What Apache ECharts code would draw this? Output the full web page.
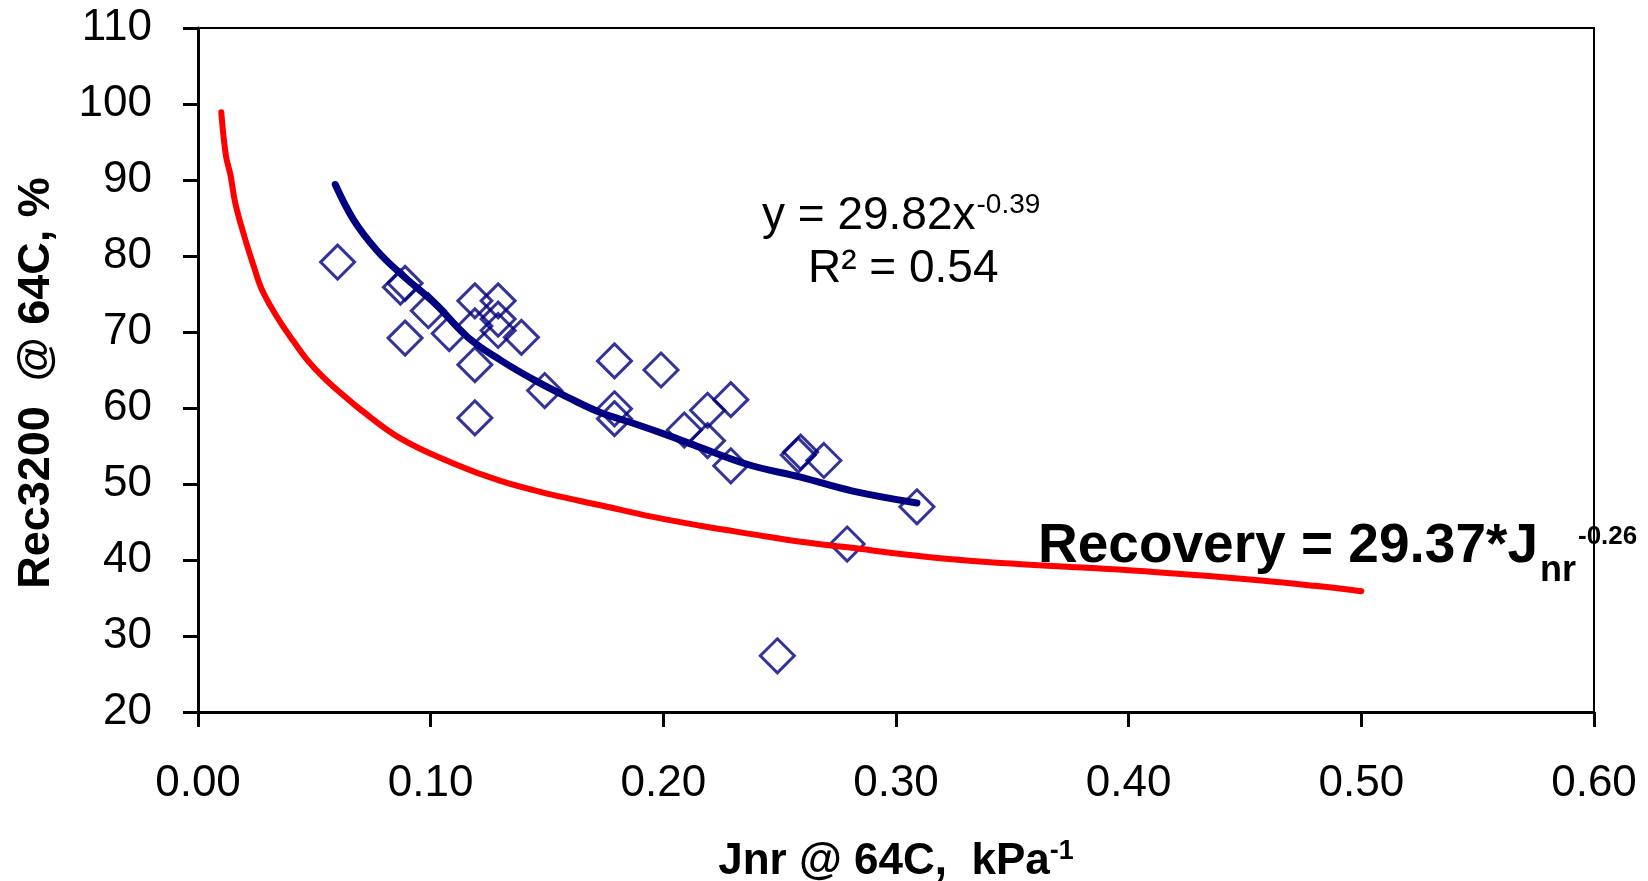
<!DOCTYPE html>
<html>
<head>
<meta charset="utf-8">
<script src="https://cdn.jsdelivr.net/npm/echarts@6/dist/echarts.min.js"></script>
<style>
  html, body { margin: 0; padding: 0; background: #fff; }
  #main { width: 1648px; height: 881px; }
</style>
</head>
<body>
<div id="main"></div>
<script>
// measured binders: Jnr (kPa^-1) vs recovery (%)
const jnrMeasured = [0.060, 0.089, 0.087, 0.099, 0.089, 0.108, 0.119, 0.129, 0.119, 0.129,
  0.129, 0.139, 0.119, 0.119, 0.149, 0.179, 0.199, 0.179, 0.179, 0.209,
  0.219, 0.229, 0.219, 0.229, 0.259, 0.258, 0.269, 0.309, 0.279, 0.249];
const recMeasured = [79.2, 76.4, 75.9, 72.8, 69.2, 69.8, 74.1, 74.1, 70.8, 71.7,
  70.2, 69.3, 65.7, 58.7, 62.3, 66.2, 65.0, 59.9, 58.6, 57.1,
  59.7, 61.1, 55.7, 52.4, 54.2, 53.8, 53.1, 47.0, 42.1, 27.4];

// power trend line through the measured points
const fitJnr = [0.059, 0.067, 0.077, 0.087, 0.102, 0.116, 0.130, 0.145, 0.159, 0.173,
  0.188, 0.202, 0.216, 0.237, 0.259, 0.281, 0.309];
const fitRec = [89.4, 84.7, 80.7, 77.7, 73.7, 69.3, 66.3, 63.6, 61.4, 59.4,
  57.9, 56.4, 54.8, 52.5, 50.9, 49.1, 47.5];

// red specification curve: Recovery = 29.37*Jnr^-0.26
const specJnr = [0.010, 0.012, 0.014, 0.016, 0.020, 0.024, 0.027, 0.031, 0.036, 0.041,
  0.047, 0.054, 0.062, 0.069, 0.087, 0.109, 0.130, 0.152, 0.173, 0.195,
  0.216, 0.238, 0.259, 0.281, 0.302, 0.324, 0.345, 0.380, 0.412, 0.457, 0.480, 0.500];
const specRec = [98.9, 93.2, 90.6, 87.0, 82.5, 78.6, 75.9, 73.5, 71.0, 68.8,
  66.3, 64.0, 61.8, 60.0, 56.0, 52.8, 50.4, 48.6, 47.2, 45.7,
  44.5, 43.4, 42.4, 41.6, 40.8, 40.1, 39.6, 39.0, 38.4, 37.3, 36.6, 35.9];

const FONT = '"Liberation Sans", Arial, sans-serif';

let pairs = (xs, ys) => xs.map((x, i) => [x, ys[i]]);

let ctx = document.createElement("canvas").getContext("2d");
let textWidth = (txt, font) => {
  ctx.font = font;
  return ctx.measureText(txt).width;
};

// equation labels, baseline positions in px
let blueX = 762, blueBase = 229;
let blueMainW = textWidth("y = 29.82x", "46px " + FONT);
let redX = 1038, redBase = 562;
let redMainW = textWidth("Recovery = 29.37*J", "bold 55px " + FONT);
let redSubW = textWidth("nr", "bold 36px " + FONT);

let baseText = (txt, x, base, size, weight, color, align) => ({
  type: "text",
  z: 100,
  style: {
    text: txt,
    x: x,
    y: base - size * 0.27,
    fill: color,
    fontSize: size,
    fontWeight: weight,
    fontFamily: FONT,
    align: align || "left",
    verticalAlign: "middle",
  },
});

let option = {
  backgroundColor: "#fff",
  animation: false,
  grid: {
    left: 198,
    right: 54,
    top: 28,
    bottom: 169,
    outerBoundsMode: "none",
    show: true,
    borderColor: "#000",
    borderWidth: 2,
  },
  xAxis: {
    type: "value",
    min: 0,
    max: 0.6,
    interval: 0.1,
    name: "{a|Jnr @ 64C,  kPa}{s|-1}",
    nameLocation: "middle",
    nameGap: 126,
    nameTextStyle: {
      rich: {
        a: { fontSize: 44, fontWeight: "bold", fontFamily: FONT, color: "#000", lineHeight: 46, verticalAlign: "bottom" },
        s: { fontSize: 27, fontWeight: "bold", fontFamily: FONT, color: "#000", lineHeight: 46, verticalAlign: "top" },
      },
    },
    axisLine: { onZero: false, lineStyle: { color: "#000", width: 3 } },
    axisTick: { length: 15, lineStyle: { color: "#000", width: 3 } },
    splitLine: { show: false },
    axisLabel: {
      margin: 50,
      fontSize: 44,
      fontFamily: FONT,
      color: "#000",
      formatter: (v) => v.toFixed(2),
    },
  },
  yAxis: {
    type: "value",
    min: 20,
    max: 110,
    interval: 10,
    name: "Rec3200  @ 64C, %",
    nameLocation: "middle",
    nameRotate: 90,
    nameGap: 139,
    nameTextStyle: {
      fontSize: 45,
      fontWeight: "bold",
      fontFamily: FONT,
      color: "#000",
      padding: [0, 26, 0, 0],
    },
    axisLine: { onZero: false, lineStyle: { color: "#000", width: 3 } },
    axisTick: { length: 15, lineStyle: { color: "#000", width: 3 } },
    splitLine: { show: false },
    axisLabel: { margin: 46, fontSize: 44, fontFamily: FONT, color: "#000" },
  },
  series: [
    {
      name: "Measured",
      type: "scatter",
      z: 2,
      symbol: "diamond",
      symbolSize: 34,
      itemStyle: { color: "rgba(0,0,0,0)", borderColor: "#000080", borderWidth: 3 },
      data: pairs(jnrMeasured, recMeasured),
    },
    {
      name: "Power fit",
      type: "line",
      z: 3,
      smooth: 0.4,
      showSymbol: false,
      lineStyle: { color: "#000080", width: 7, cap: "round" },
      data: pairs(fitJnr, fitRec),
    },
    {
      name: "Specification",
      type: "line",
      z: 3,
      smooth: 0.4,
      showSymbol: false,
      lineStyle: { color: "#ff0000", width: 6, cap: "round" },
      data: pairs(specJnr, specRec),
    },
  ],
  graphic: [
    baseText("y = 29.82x", blueX, blueBase, 46, "normal", "#000"),
    baseText("-0.39", blueX + blueMainW + 1, 213, 28, "normal", "#000"),
    baseText("R² = 0.54", 808, 282, 46, "normal", "#000"),
    baseText("Recovery = 29.37*J", redX, redBase, 55, "bold", "#000"),
    baseText("nr", redX + redMainW + 2, 581, 36, "bold", "#000"),
    baseText("-0.26", redX + redMainW + redSubW + 4, 544, 26, "bold", "#000"),
  ],
};

let myChart = echarts.init(document.getElementById("main"));
myChart.setOption(option);
</script>
</body>
</html>
